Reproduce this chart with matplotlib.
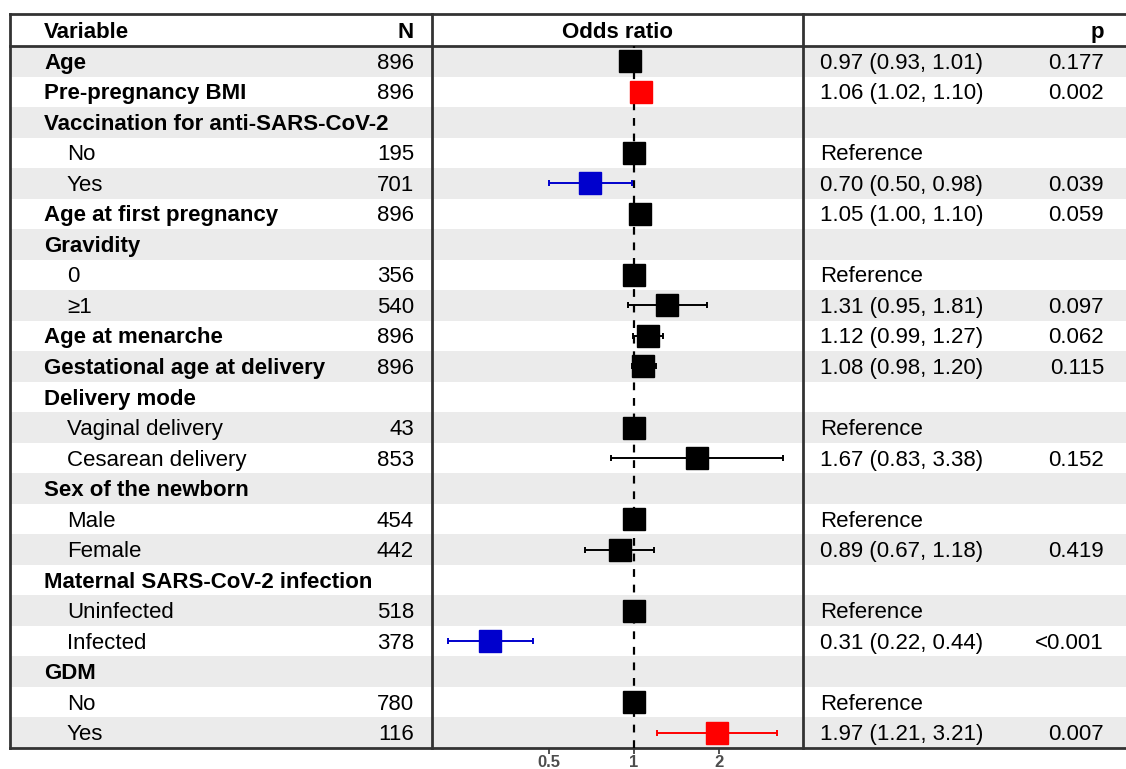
import numpy as np
import matplotlib
matplotlib.use("Agg")
import matplotlib.pyplot as plt

plt.rcParams['font.family'] = ['Liberation Sans', 'DejaVu Sans']

# table rows, top to bottom
labels = ["Age", "Pre-pregnancy BMI", "Vaccination for anti-SARS-CoV-2", "No", "Yes",
          "Age at first pregnancy", "Gravidity", "0", "\u22651", "Age at menarche",
          "Gestational age at delivery", "Delivery mode", "Vaginal delivery",
          "Cesarean delivery", "Sex of the newborn", "Male", "Female",
          "Maternal SARS-CoV-2 infection", "Uninfected", "Infected", "GDM", "No", "Yes"]
is_header = [True, True, True, False, False, True, True, False, False, True, True,
             True, False, False, True, False, False, True, False, False, True, False, False]
n_vals = ["896", "896", "", "195", "701", "896", "", "356", "540", "896", "896", "",
          "43", "853", "", "454", "442", "", "518", "378", "", "780", "116"]
odds = [0.97, 1.06, None, 1.0, 0.70, 1.05, None, 1.0, 1.31, 1.12, 1.08, None,
        1.0, 1.67, None, 1.0, 0.89, None, 1.0, 0.31, None, 1.0, 1.97]
ci_low = [0.93, 1.02, None, None, 0.50, 1.00, None, None, 0.95, 0.99, 0.98, None,
          None, 0.83, None, None, 0.67, None, None, 0.22, None, None, 1.21]
ci_high = [1.01, 1.10, None, None, 0.98, 1.10, None, None, 1.81, 1.27, 1.20, None,
           None, 3.38, None, None, 1.18, None, None, 0.44, None, None, 3.21]
or_text = ["0.97 (0.93, 1.01)", "1.06 (1.02, 1.10)", "", "Reference", "0.70 (0.50, 0.98)",
           "1.05 (1.00, 1.10)", "", "Reference", "1.31 (0.95, 1.81)", "1.12 (0.99, 1.27)",
           "1.08 (0.98, 1.20)", "", "Reference", "1.67 (0.83, 3.38)", "", "Reference",
           "0.89 (0.67, 1.18)", "", "Reference", "0.31 (0.22, 0.44)", "", "Reference",
           "1.97 (1.21, 3.21)"]
p_text = ["0.177", "0.002", "", "", "0.039", "0.059", "", "", "0.097", "0.062", "0.115", "",
          "", "0.152", "", "", "0.419", "", "", "<0.001", "", "", "0.007"]
colors = ["black", "red", None, "black", "mediumblue", "black", None, "black", "black",
          "black", "black", None, "black", "black", None, "black", "black", None, "black",
          "mediumblue", None, "black", "red"]
ticks = [0.5, 1, 2]

W, H = 1126, 769
top, head, bottom = 14, 46, 748
left, c1, c2 = 10, 432, 803
nrow = len(labels)
rh = (bottom - head) / nrow

fig = plt.figure(figsize=(W / 100, H / 100), dpi=100)
bg = fig.add_axes([0, 0, 1, 1])
bg.set_xlim(0, W)
bg.set_ylim(H, 0)
bg.axis("off")

# stripes
for i in range(nrow):
    if i % 2 == 0:
        bg.add_patch(plt.Rectangle((left, head + i * rh), W - left, rh,
                                   facecolor="#EBEBEB", edgecolor="none", zorder=0))

lc = "#333333"
lw = 2
bg.plot([left, W], [top, top], color=lc, lw=lw)
bg.plot([left, W], [head, head], color=lc, lw=lw)
bg.plot([left, W], [bottom, bottom], color=lc, lw=lw)
bg.plot([left, left], [top, bottom], color=lc, lw=lw)
bg.plot([c1, c1], [top, bottom], color=lc, lw=lw)
bg.plot([c2, c2], [top, bottom], color=lc, lw=lw)

fs = 16
hy = (top + head) / 2 + 2.5
bg.text(44, hy, "Variable", fontsize=fs, fontweight="bold", va="center")
bg.text(414, hy, "N", fontsize=fs, fontweight="bold", va="center", ha="right")
bg.text((c1 + c2) / 2, hy, "Odds ratio", fontsize=fs, fontweight="bold", va="center", ha="center")
bg.text(1104, hy, "p", fontsize=fs, fontweight="bold", va="center", ha="right")

for i in range(nrow):
    y = head + (i + 0.5) * rh + 2
    if is_header[i]:
        bg.text(44, y, labels[i], fontsize=fs, fontweight="bold", va="center")
    else:
        bg.text(67, y, labels[i], fontsize=fs, va="center")
    bg.text(414, y, n_vals[i], fontsize=fs, va="center", ha="right")
    bg.text(820, y, or_text[i], fontsize=fs, va="center")
    bg.text(1104, y, p_text[i], fontsize=fs, va="center", ha="right")

# forest panel
ax = fig.add_axes([c1 / W, 1 - bottom / H, (c2 - c1) / W, (bottom - head) / H])
ax.patch.set_visible(False)
ax.set_xscale("log")
ax.set_xlim(0.1925, 3.97)
ax.set_ylim(nrow - 0.5, -0.5)
for s in ax.spines.values():
    s.set_visible(False)
ax.axvline(1, color="black", lw=1.6, ls=(0, (3.5, 3.5)), zorder=1)

for i in range(nrow):
    if odds[i] is None:
        continue
    c = colors[i]
    if ci_low[i] is not None:
        ax.errorbar(odds[i], i, xerr=[[odds[i] - ci_low[i]], [ci_high[i] - odds[i]]],
                    fmt="none", ecolor=c, elinewidth=1.4, capsize=2, capthick=1.4, zorder=2)
    ax.plot(odds[i], i, marker="s", ms=15.5, color=c, mec=c, ls="none", zorder=3)

ax.set_yticks([])
ax.set_xticks(ticks)
ax.set_xticklabels([str(t) for t in ticks])
ax.minorticks_off()
ax.tick_params(axis="x", length=4, width=1.2, color=lc, pad=1, labelsize=12,
               labelcolor="#4D4D4D")
for lab in ax.get_xticklabels():
    lab.set_fontweight("bold")

fig.savefig("out.png", dpi=100)
